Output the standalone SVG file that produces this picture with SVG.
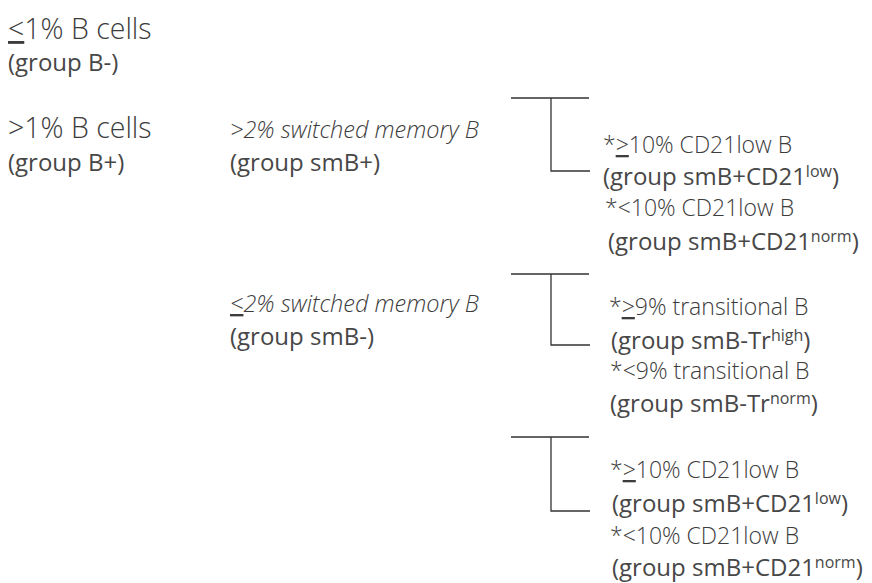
<svg xmlns="http://www.w3.org/2000/svg" width="872" height="583" viewBox="0 0 872 583">
  <style>
    text { font-family: "Open Sans", "Liberation Sans", sans-serif; fill: #3c3c3c; }
    .lvl1 { font-size: 28.5px; font-weight: 300; }
    .grp { font-size: 24px; font-weight: 400; fill: #474747; }
    .crit { font-size: 23.5px; font-weight: 300; font-style: italic; }
    .leaf { font-size: 23px; font-weight: 300; }
    .ul { text-decoration: underline; }
    .sup { font-size: 16px; }
    .bracket { fill: none; stroke: #333; stroke-width: 1.3; }
  </style>
  <rect width="872" height="583" fill="#ffffff"/>

  <!-- first split: B cell level -->
  <g id="b-minus">
    <text class="lvl1" x="8" y="39"><tspan class="ul">&lt;</tspan>1% B cells</text>
    <text class="grp" x="8" y="71">(group B-)</text>
  </g>
  <g id="b-plus">
    <text class="lvl1" x="8" y="138">&gt;1% B cells</text>
    <text class="grp" x="8" y="171">(group B+)</text>
  </g>

  <!-- second split: switched memory B -->
  <g id="smb-plus">
    <text class="crit" x="230" y="138">&gt;2% switched memory B</text>
    <text class="grp" x="230" y="171">(group smB+)</text>
  </g>
  <g id="smb-minus">
    <text class="crit" x="230" y="312"><tspan class="ul">&lt;</tspan>2% switched memory B</text>
    <text class="grp" x="230" y="345">(group smB-)</text>
  </g>

  <!-- third split leaves -->
  <g id="smb-plus-cd21">
    <text class="leaf" x="603" y="153">*<tspan class="ul">&gt;</tspan>10% CD21low B</text>
    <text class="grp" x="603" y="185">(group smB+CD21<tspan class="sup" dy="-8">low</tspan><tspan dy="8">)</tspan></text>
    <text class="leaf" x="605" y="216">*&lt;10% CD21low B</text>
    <text class="grp" x="608" y="250">(group smB+CD21<tspan class="sup" dy="-8">norm</tspan><tspan dy="8">)</tspan></text>
  </g>
  <g id="smb-minus-tr">
    <text class="leaf" x="609" y="315">*<tspan class="ul">&gt;</tspan>9% transitional B</text>
    <text class="grp" x="611" y="349">(group smB-Tr<tspan class="sup" dy="-8">high</tspan><tspan dy="8">)</tspan></text>
    <text class="leaf" x="610" y="379">*&lt;9% transitional B</text>
    <text class="grp" x="610" y="412">(group smB-Tr<tspan class="sup" dy="-8">norm</tspan><tspan dy="8">)</tspan></text>
  </g>
  <g id="smb-minus-cd21">
    <text class="leaf" x="610" y="478">*<tspan class="ul">&gt;</tspan>10% CD21low B</text>
    <text class="grp" x="612" y="512">(group smB+CD21<tspan class="sup" dy="-8">low</tspan><tspan dy="8">)</tspan></text>
    <text class="leaf" x="610" y="544">*&lt;10% CD21low B</text>
    <text class="grp" x="612" y="576">(group smB+CD21<tspan class="sup" dy="-8">norm</tspan><tspan dy="8">)</tspan></text>
  </g>

  <!-- bracket connectors -->
  <g id="connectors">
    <path class="bracket" d="M511 98 H589 M551 98 V171 H590"/>
    <path class="bracket" d="M511 274 H589 M551 274 V345 H590"/>
    <path class="bracket" d="M511 437 H589 M551 437 V511 H590"/>
  </g>
</svg>
